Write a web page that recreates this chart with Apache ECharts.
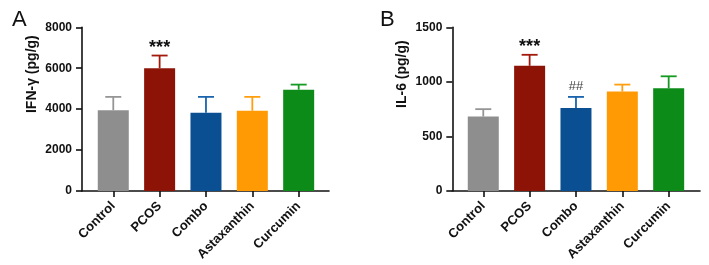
<!DOCTYPE html>
<html>
<head>
<meta charset="utf-8">
<script src="https://cdn.jsdelivr.net/npm/echarts@6/dist/echarts.min.js"></script>
<style>
html,body{margin:0;padding:0;background:#fff;}
#chart{width:709px;height:265px;}
</style>
</head>
<body>
<div id="chart"></div>
<script>
// ---- data ----
const categories = ['Control', 'PCOS', 'Combo', 'Astaxanthin', 'Curcumin'];
const ifnMean = [3950, 6000, 3830, 3920, 4950];
const ifnErr = [650, 620, 770, 680, 250];
const ifnMarks = ['', '***', '', '', ''];
const il6Mean = [682, 1147, 760, 911, 941];
const il6Err = [68, 101, 102, 64, 110];
const il6Marks = ['', '***', '##', '', ''];
const ifnAxis = { max: 8000, step: 2000, name: 'IFN-\u03b3 (pg/g)' };
const il6Axis = { max: 1500, step: 500, name: 'IL-6 (pg/g)' };
const panelLetters = ['A', 'B'];

// ---- styles ----
const barColors = ['#8e8e8e', '#8c1306', '#0b4f93', '#ff9a05', '#0d8b19'];
const errColors = ['#959595', '#a11a0c', '#1a64ad', '#ff9f10', '#159a22'];
const FONT = 'Liberation Sans, Arial, sans-serif';
const AX = { color: '#111', width: 1.6 };

const chart = echarts.init(document.getElementById('chart'), null, { renderer: 'canvas' });

// plot grids (category bands) and frame grids (for the longer x axis line)
const TOP = 27.3, H = 163.7;
const grids = [
  { left: 90.1, top: TOP, width: 231.75, height: H },   // A plot
  { left: 460.1, top: TOP, width: 231.75, height: H },  // B plot
  { left: 82, top: TOP, width: 247, height: H },        // A frame
  { left: 452.3, top: TOP, width: 247.7, height: H }    // B frame
];

function catAxis(gi) {
  return {
    type: 'category', gridIndex: gi, data: categories,
    axisLine: { show: false },
    axisTick: { show: true, alignWithLabel: true, length: 6, lineStyle: AX },
    axisLabel: {
      rotate: 45, margin: 13, interval: 0,
      fontFamily: FONT, fontWeight: 'bold', fontSize: 13, color: '#111'
    }
  };
}
function frameXAxis(gi) {
  return {
    type: 'value', gridIndex: gi, min: 0, max: 1,
    axisLine: { show: true, onZero: false, lineStyle: AX },
    axisTick: { show: false }, axisLabel: { show: false }, splitLine: { show: false }
  };
}
function frameYAxis(gi) {
  return { type: 'value', gridIndex: gi, min: 0, max: 1, show: false };
}
function yAxisDef(gi, ax, off) {
  return {
    type: 'value', gridIndex: gi, min: 0, max: ax.max, interval: ax.step, offset: off,
    name: ax.name, nameLocation: 'middle', nameGap: 43,
    nameTextStyle: { fontFamily: FONT, fontWeight: 'bold', fontSize: 14, color: '#111', padding: [0, 0, 0, 70] },
    splitLine: { show: false },
    axisLine: { show: true, lineStyle: AX },
    axisTick: { show: true, length: 6, lineStyle: AX },
    axisLabel: { margin: 10, formatter: v => String(v), fontFamily: FONT, fontWeight: 'bold', fontSize: 12, color: '#111' }
  };
}
function barSeries(gi, mean) {
  return {
    type: 'bar', xAxisIndex: gi, yAxisIndex: gi, barWidth: 31,
    data: mean.map((v, i) => ({ value: v, itemStyle: { color: barColors[i] } })),
    animation: false, silent: true
  };
}
function errSeries(gi, mean, err, marks) {
  return {
    type: 'custom', xAxisIndex: gi, yAxisIndex: gi, animation: false, silent: true, z: 5,
    data: mean.map((v, i) => [i, v, v + err[i]]),
    renderItem: function (params, api) {
      const i = params.dataIndex;
      const p0 = api.coord([api.value(0), api.value(1)]);
      const p1 = api.coord([api.value(0), api.value(2)]);
      const c = errColors[i];
      const children = [
        { type: 'line', shape: { x1: p0[0], y1: p0[1], x2: p1[0], y2: p1[1] }, style: { stroke: c, lineWidth: 1.8 } },
        { type: 'line', shape: { x1: p1[0] - 8, y1: p1[1], x2: p1[0] + 8, y2: p1[1] }, style: { stroke: c, lineWidth: 1.8 } }
      ];
      const m = marks[i];
      if (m) {
        const isStar = m.indexOf('*') >= 0;
        children.push({
          type: 'text',
          style: {
            text: m, x: p1[0], y: isStar ? p1[1] + 1 : p1[1] - 4,
            textAlign: 'center', textVerticalAlign: 'bottom', align: 'center', verticalAlign: 'bottom',
            font: isStar ? 'bold 18px ' + FONT : '13px ' + FONT,
            fill: isStar ? '#111' : '#444'
          }
        });
      }
      return { type: 'group', children: children };
    }
  };
}

const option = {
  backgroundColor: '#fff',
  animation: false,
  title: [
    { text: panelLetters[0], left: 7, top: 4, textStyle: { fontFamily: FONT, fontWeight: 'normal', fontSize: 22, color: '#111' } },
    { text: panelLetters[1], left: 375, top: 4, textStyle: { fontFamily: FONT, fontWeight: 'normal', fontSize: 22, color: '#111' } }
  ],
  grid: grids,
  xAxis: [catAxis(0), catAxis(1), frameXAxis(2), frameXAxis(3)],
  yAxis: [yAxisDef(0, ifnAxis, 8.1), yAxisDef(1, il6Axis, 7.8), frameYAxis(2), frameYAxis(3)],
  series: [
    barSeries(0, ifnMean), errSeries(0, ifnMean, ifnErr, ifnMarks),
    barSeries(1, il6Mean), errSeries(1, il6Mean, il6Err, il6Marks)
  ]
};
chart.setOption(option);
</script>
</body>
</html>
